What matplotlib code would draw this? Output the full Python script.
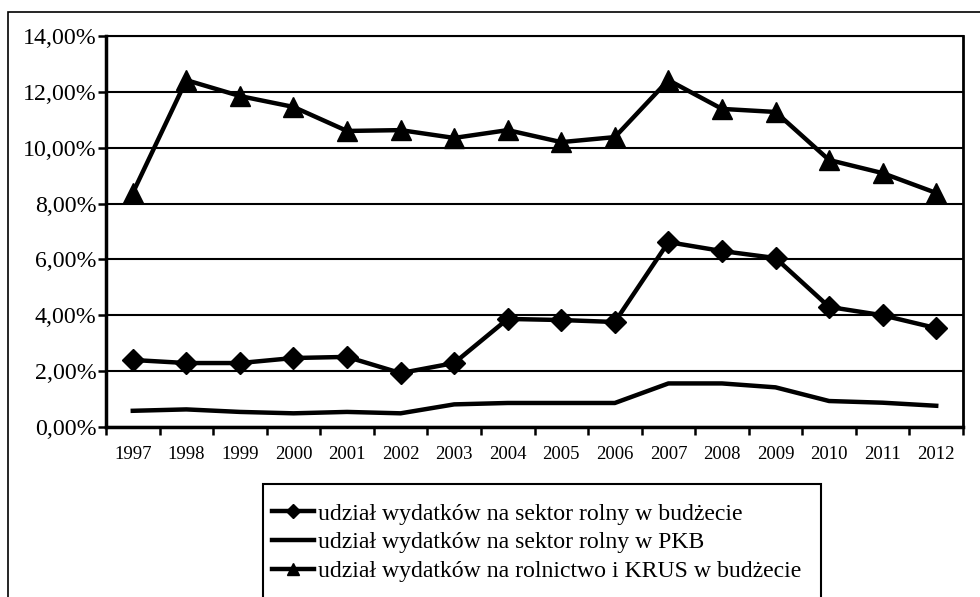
import matplotlib
matplotlib.use("Agg")
import matplotlib.pyplot as plt
from matplotlib.lines import Line2D
from matplotlib.patches import Rectangle
from matplotlib.ticker import FixedLocator, FuncFormatter
import numpy as np

years = ["1997", "1998", "1999", "2000", "2001", "2002", "2003", "2004",
         "2005", "2006", "2007", "2008", "2009", "2010", "2011", "2012"]
budzet_sektor = [2.40, 2.29, 2.29, 2.47, 2.51, 1.93, 2.29, 3.87,
                 3.83, 3.76, 6.62, 6.30, 6.05, 4.30, 4.00, 3.54]
pkb_sektor = [0.58, 0.63, 0.54, 0.49, 0.54, 0.49, 0.81, 0.86,
              0.86, 0.86, 1.56, 1.56, 1.42, 0.93, 0.87, 0.76]
krus_budzet = [8.38, 12.42, 11.85, 11.46, 10.60, 10.63, 10.35, 10.63,
               10.20, 10.38, 12.42, 11.39, 11.28, 9.56, 9.09, 8.38]
labels = ["udział wydatków na sektor rolny w budżecie",
          "udział wydatków na sektor rolny w PKB",
          "udział wydatków na rolnictwo i KRUS w budżecie"]
yticks = [0, 2, 4, 6, 8, 10, 12, 14]

plt.rcParams['font.family'] = ['Liberation Serif', 'DejaVu Serif']

W, H = 980, 597
fig = plt.figure(figsize=(W / 100, H / 100), dpi=100)

# outer frame (top-left corner at (8,12) px, extends past the right/bottom edges)
fig.patches.append(Rectangle((8 / W, -0.5), 1.2, 1 - 12 / H + 0.5,
                             transform=fig.transFigure, fill=False,
                             edgecolor='black', linewidth=1.2, zorder=0))
# legend frame (top-left at (263,484) px, right at 821 px, runs past bottom edge)
fig.patches.append(Rectangle((263 / W, -0.5), (821 - 263) / W, 1 - 484 / H + 0.5,
                             transform=fig.transFigure, fill=False,
                             edgecolor='black', linewidth=1.5, zorder=0))

ax = fig.add_axes([106 / W, 1 - 427 / H, (963 - 106) / W, (427 - 36) / H])
x = np.arange(len(years))

ax.plot(x, budzet_sektor, color='black', lw=3.2, marker='D', markersize=11,
        zorder=3, clip_on=False)
ax.plot(x, pkb_sektor, color='black', lw=3.2, zorder=3, clip_on=False)
ax.plot(x, krus_budzet, color='black', lw=3.2, marker='^', markersize=14,
        zorder=3, clip_on=False)

ax.set_xlim(-0.5, len(years) - 0.5)
ax.set_ylim(0, 14)
ax.set_yticks(yticks)
ax.yaxis.set_major_formatter(FuncFormatter(lambda v, p: f"{v:.2f}".replace('.', ',') + "%"))
ax.grid(axis='y', color='black', lw=1.5)
ax.set_axisbelow(True)

ax.set_xticks(x)
ax.set_xticklabels(years, fontsize=13.5)
ax.xaxis.set_minor_locator(FixedLocator(np.arange(-0.5, len(years), 1.0)))
ax.tick_params(axis='x', which='major', length=0, pad=14)
ax.tick_params(axis='x', which='minor', length=6, width=1.8, direction='out')
ax.tick_params(axis='y', length=6, width=1.8, direction='out', labelsize=17.2, pad=1)

for s in ['left', 'bottom']:
    ax.spines[s].set_linewidth(2.5)
ax.spines['right'].set_linewidth(2.0)
ax.spines['top'].set_linewidth(1.5)

handles = [
    Line2D([], [], color='black', lw=3.2, marker='D', markersize=7),
    Line2D([], [], color='black', lw=3.2),
    Line2D([], [], color='black', lw=3.2, marker='^', markersize=9),
]
leg = fig.legend(handles, labels, loc='upper left',
                 bbox_to_anchor=(272 / W, 1 - 503 / H), fontsize=17.1,
                 frameon=False,
                 handlelength=1.75, handletextpad=0.2, labelspacing=0.3,
                 borderpad=0, borderaxespad=0)

fig.savefig("out.png", dpi=100)
